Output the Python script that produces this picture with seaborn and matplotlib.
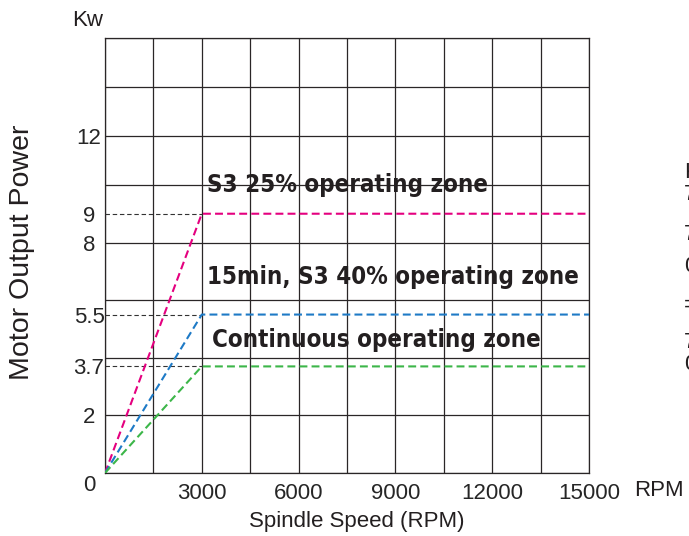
import numpy as np
import pandas as pd
import seaborn as sns
import matplotlib
matplotlib.use("Agg")
import matplotlib.pyplot as plt
from matplotlib import font_manager as fm
from matplotlib.transforms import ScaledTranslation

# ---- data ----
speed_rpm = [0, 3000, 15000]
s3_25_kw = [0, 9, 9]
s3_40_kw = [0, 5.5, 5.5]
cont_kw = [0, 3.7, 3.7]
zone_names = ["S3 25% operating zone", "15min, S3 40% operating zone", "Continuous operating zone"]
zone_colors = ["#E4007F", "#1E7AC6", "#3CB649"]
ref_levels = [9, 5.5, 3.7]
ref_end = 3000

x_grid = [0, 1500, 3000, 4500, 6000, 7500, 9000, 10500, 12000, 13500, 15000]
x_ticks = [3000, 6000, 9000, 12000, 15000]
x_ticklabels = ["3000", "6000", "9000", "12000", "15000"]
y_grid = [0, 2, 4, 6, 8, 10, 11.7, 13.4, 15.1]
y_ticks = [0, 2, 3.7, 5.5, 8, 9, 11.7]
y_ticklabels = ["0", "2", "3.7", "5.5", "8", "9", "12"]

df = pd.DataFrame({
    "speed": speed_rpm * 3,
    "kw": s3_25_kw + s3_40_kw + cont_kw,
    "zone": [zone_names[0]] * 3 + [zone_names[1]] * 3 + [zone_names[2]] * 3,
})

sns.set_theme(style="white")
plt.rcParams["font.family"] = ["Liberation Sans", "DejaVu Sans"]

names = {f.name for f in fm.fontManager.ttflist}
if "Liberation Sans Narrow" in names:
    narrow_kw = dict(family=["Liberation Sans Narrow", "DejaVu Sans"], fontsize=22.5)
else:
    narrow_kw = dict(family=["DejaVu Sans"], fontstretch="condensed", fontsize=17.3)

W, H = 689, 536
fig = plt.figure(figsize=(W / 100, H / 100), dpi=100)
ax = fig.add_axes([105 / W, (H - 473) / H, (589 - 105) / W, (473 - 38) / H])
ax.xaxis.remove_overlapping_locs = False
ax.yaxis.remove_overlapping_locs = False

gcol = "#2a2627"
ax.set_xlim(0, 15000)
ax.set_ylim(0, 15.1)
ax.set_xticks(x_grid, minor=True)
ax.set_yticks(y_grid, minor=True)
ax.grid(False)
ax.grid(True, which="minor", color=gcol, linewidth=0.9)
ax.set_axisbelow(True)
for s in ax.spines.values():
    s.set_visible(True)
    s.set_color(gcol)
    s.set_linewidth(0.9)

# reference dashed lines
for lv in ref_levels:
    ax.plot([0, ref_end], [lv, lv], color="#333333", linewidth=0.8, dashes=(4, 2.5), zorder=3)

sns.lineplot(data=df, x="speed", y="kw", hue="zone", style="zone",
             palette=dict(zip(zone_names, zone_colors)),
             dashes={z: (3.8, 2.0) for z in zone_names},
             linewidth=1.5, legend=False, ax=ax, zorder=4)

ax.set_xticks(x_ticks)
ax.set_xticklabels(x_ticklabels, fontsize=16)
ax.set_yticks(y_ticks)
ax.set_yticklabels(y_ticklabels, fontsize=16)
ax.tick_params(axis="both", which="both", length=0)
ax.tick_params(axis="x", pad=7)
ax.tick_params(axis="y", pad=11.5)
for lab in ax.get_yticklabels():
    lab.set_horizontalalignment("center")
    if lab.get_text() == "0":
        lab.set_transform(lab.get_transform() + ScaledTranslation(0, -10 / 100, fig.dpi_scale_trans))
ax.set_xlabel("")
ax.set_ylabel("")

# zone annotations
ax.text(3150, 10.0, zone_names[0], fontweight="bold", color="#231F20", va="center", ha="left", **narrow_kw)
ax.text(3150, 6.8, zone_names[1], fontweight="bold", color="#231F20", va="center", ha="left", **narrow_kw)
ax.text(3330, 4.6, zone_names[2], fontweight="bold", color="#231F20", va="center", ha="left", **narrow_kw)

# figure-level labels
fig.text(72 / W, 1 - 20 / H, "Kw", fontsize=16, ha="left", va="center", color="#231F20")
fig.text(634 / W, 1 - 490 / H, "RPM", fontsize=16, ha="left", va="center", color="#231F20")
fig.text(357 / W, 1 - 521 / H, "Spindle Speed (RPM)", fontsize=16, ha="center", va="center", color="#231F20")
fig.text(22 / W, 1 - 252 / H, "Motor Output Power", fontsize=20.5, rotation=90, ha="center", va="center", color="#231F20")

# clipped fragments of neighbouring chart at right edge
frag = [("Kw", 173), ("7", 195), ("7", 234), ("0", 267), ("=", 305), ("7", 342), ("0", 365)]
for t, yy in frag:
    fig.text(684 / W, 1 - yy / H, t, fontsize=16, ha="left", va="center", color="#231F20")

fig.savefig("out.png", dpi=100)
